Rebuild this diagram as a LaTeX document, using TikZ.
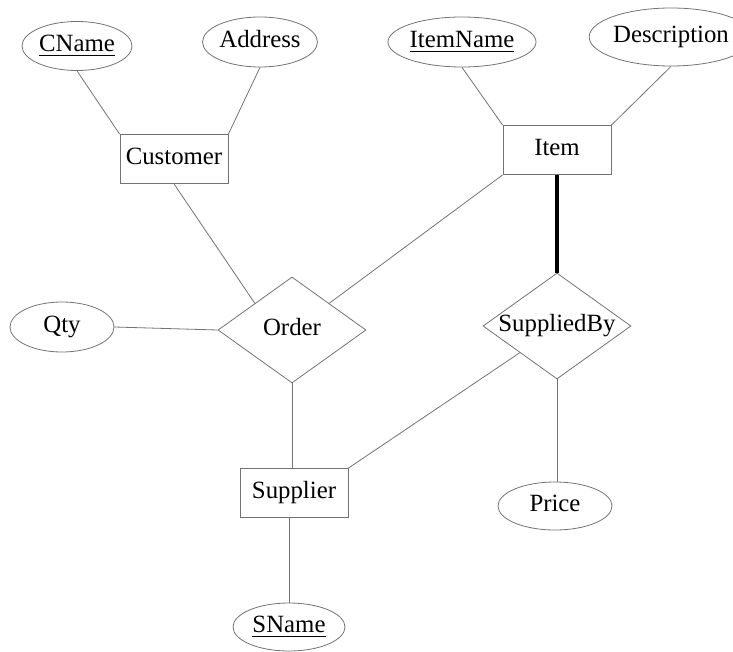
\documentclass[tikz,border=0pt]{standalone}
\usepackage{fontspec}
\setmainfont{Liberation Serif}
\usetikzlibrary{shapes.geometric}
\begin{document}
\begin{tikzpicture}[x=0.5pt, y=-0.5pt, font=\fontsize{12.4}{14}\selectfont,
  every node/.style={text height=1.6ex, text depth=0.3ex},
  entity/.style={draw=black!55, line width=0.4pt, minimum width=54pt, minimum height=24.5pt, inner sep=0pt},
  attr/.style={draw=black!55, line width=0.4pt, ellipse, inner sep=0pt},
  rel/.style={draw=black!55, line width=0.4pt, diamond, aspect=1.4, inner sep=0pt, minimum width=74pt, minimum height=53pt},
  link/.style={draw=black!55, line width=0.4pt}]
\useasboundingbox (0,0) rectangle (733,652);
% entities
\node[entity] (Customer) at (174,159) {Customer};
\node[entity] (Item) at (557,150) {Item};
\node[entity] (Supplier) at (294,493) {Supplier};
% relationships
\node[rel] (Order) at (292,330) {Order};
\node[rel] (SuppliedBy) at (557,326) {SuppliedBy};
% attributes
\node[attr, minimum width=55pt, minimum height=24.5pt] (CName) at (77,46) {\underline{CName}};
\node[attr, minimum width=56pt, minimum height=25pt] (Address) at (260,42) {Address};
\node[attr, minimum width=56pt, minimum height=25pt] (ItemName) at (462,42) {\underline{ItemName}};
\node[attr, minimum width=62pt, minimum height=29pt] (Description) at (671,37) {Description};
\node[attr, minimum width=52pt, minimum height=25pt] (Qty) at (62,327) {Qty};
\node[attr, minimum width=57pt, minimum height=24pt] (Price) at (555,506) {Price};
\node[attr, minimum width=56pt, minimum height=24pt] (SName) at (289,627) {\underline{SName}};
% links
\draw[link] (CName.south) -- (Customer.north west);
\draw[link] (Address.south) -- (Customer.north east);
\draw[link] (ItemName.south) -- (Item.north west);
\draw[link] (Description.south) -- (Item.north east);
\draw[link] (Customer.south) -- (Order.north west);
\draw[link] (Item.south west) -- (Order.north east);
\draw[link] (Qty.east) -- (Order.west);
\draw[link] (Order.south) -- (Order.south |- Supplier.north);
\draw[link] (SuppliedBy.south west) -- (Supplier.north east);
\draw[link] (SuppliedBy.south) -- (SuppliedBy.south |- Price.north);
\draw[link] (Supplier.south -| SName.north) -- (SName.north);
\draw[line width=2pt] (Item.south) -- (SuppliedBy.north);
\end{tikzpicture}
\end{document}
